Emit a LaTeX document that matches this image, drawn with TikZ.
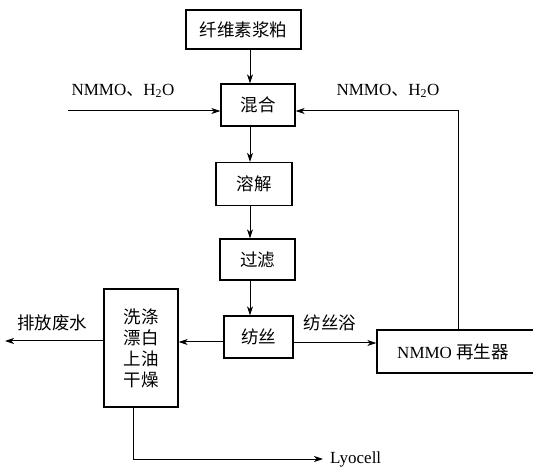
\documentclass[tikz,border=0pt]{standalone}
\usepackage{fontspec}
\setmainfont{Liberation Serif}
\newfontfamily\cjk{Noto Sans CJK SC}
\usetikzlibrary{arrows.meta}
\begin{document}
\begin{tikzpicture}[x=1pt,y=-1pt,
  box/.style={draw,line width=1.2pt,inner sep=0pt,font=\cjk\fontsize{17.5}{19}\selectfont},
  arr/.style={line width=1pt,-{Stealth[length=9pt,width=6pt,inset=2.5pt]}},
  lab/.style={font=\fontsize{17}{19}\selectfont,inner sep=0pt},
  clab/.style={font=\cjk\fontsize{17.5}{19}\selectfont,inner sep=0pt}]
\useasboundingbox (0,0) rectangle (533,470);
\clip (0,0) rectangle (533,470);
\node[box,minimum width=115pt,minimum height=39pt] (A) at (243.5,29.5) {纤维素浆粕};
\node[box,minimum width=74pt,minimum height=42pt] (B) at (258,105) {混合};
\node[box,minimum width=76pt,minimum height=43pt] (C) at (254,184) {溶解};
\node[box,minimum width=75pt,minimum height=41pt] (D) at (257.5,259.5) {过滤};
\node[box,minimum width=69pt,minimum height=42pt] (E) at (258.5,337) {纺丝};
\node[box,minimum width=74pt,minimum height=118pt,align=center] (F) at (141,348) {洗涤\\[2pt]漂白\\[2pt]上油\\[2pt]干燥};
\node[box,minimum width=160pt,minimum height=43pt] (G) at (457,351.5) {};
\node[lab] (Gt) at (453,351.5) {NMMO {\cjk\fontsize{17.5}{19}\selectfont 再生器}};
\coordinate (xa) at (250,0);
\coordinate (inL) at (68,111);
\coordinate (corner) at (458,111);
\coordinate (waste) at (5,341);
\coordinate (lyo) at (323,459);
\coordinate (lyoTurn) at (133,459);
\draw[arr] (A.south -| xa) -- (B.north -| xa);
\draw[arr] (B.south -| xa) -- (C.north -| xa);
\draw[arr] (C.south -| xa) -- (D.north -| xa);
\draw[arr] (D.south -| xa) -- (E.north -| xa);
\draw[arr] (inL) -- (inL -| B.west);
\draw[arr] (G.north -| corner) -- (corner) -- (corner -| B.east);
\draw[arr] (E.west |- 0,342) -- (F.east |- 0,342);
\draw[arr] (E.east |- 0,343) -- (G.west |- 0,343);
\draw[arr] (F.west |- waste) -- (waste);
\draw[arr] (F.south -| lyoTurn) -- (lyoTurn) -- (lyo);
\node[lab] (L1) at (123,91) {NMMO{\cjk 、}H\textsubscript{2}O};
\node[lab] (L2) at (388,91) {NMMO{\cjk 、}H\textsubscript{2}O};
\node[clab] (L3) at (330,323) {纺丝浴};
\node[clab] (L4) at (52,323) {排放废水};
\node[lab,anchor=west] (L5) at (330,459) {Lyocell};
\end{tikzpicture}
\end{document}
